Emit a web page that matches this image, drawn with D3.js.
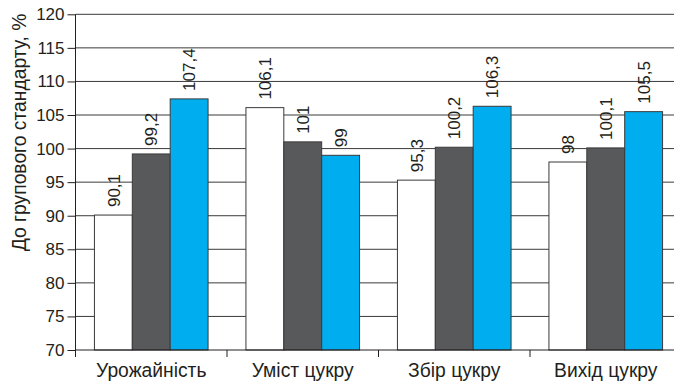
<!DOCTYPE html>
<html>
<head>
<meta charset="utf-8">
<script src="https://cdn.jsdelivr.net/npm/d3@7"></script>
<style>
  html, body { margin: 0; padding: 0; background: #fff; }
  svg { display: block; }
  text { font-family: "Liberation Sans", Arial, sans-serif; fill: #231f20; }
</style>
</head>
<body>
<svg id="chart" width="674" height="383"></svg>
<script>
// Indicators (categories) and three series of values, % of group standard
const categories = ["Урожайність", "Уміст цукру", "Збір цукру", "Вихід цукру"];
const seriesA = [90.1, 106.1, 95.3, 98];
const seriesB = [99.2, 101, 100.2, 100.1];
const seriesC = [107.4, 99, 106.3, 105.5];
const seriesColors = ["#ffffff", "#58595b", "#00aeef"];
const yTicks = [70, 75, 80, 85, 90, 95, 100, 105, 110, 115, 120];
const yTitle = "До групового стандарту, %";

const series = [seriesA, seriesB, seriesC];
const fmt = v => String(v).replace(".", ",");

const svg = d3.select("#chart");
const m = { left: 75.5, right: 681.5, top: 14.3, bottom: 350 };

const x = d3.scaleBand().domain(categories).range([m.left, m.right]).paddingInner(0).paddingOuter(0);
const bw = x.bandwidth() / 4;
const y = d3.scaleLinear().domain([70, 120]).range([m.bottom, m.top]);

// horizontal gridlines
svg.append("g")
  .selectAll("line")
  .data(yTicks.filter(t => t > 70))
  .join("line")
  .attr("x1", m.left).attr("x2", 674)
  .attr("y1", d => y(d)).attr("y2", d => y(d))
  .attr("stroke", "#3a3a3a").attr("stroke-width", 1);

// bars with rotated value labels
const groups = svg.append("g").selectAll("g")
  .data(categories)
  .join("g");

series.forEach((vals, si) => {
  groups.append("rect")
    .attr("x", (d, i) => x(d) + bw / 2 + si * bw)
    .attr("y", (d, i) => y(vals[i]))
    .attr("width", bw)
    .attr("height", (d, i) => y(70) - y(vals[i]))
    .attr("fill", seriesColors[si])
    .attr("stroke", "#3a3a3a")
    .attr("stroke-width", 1);

  groups.append("text")
    .attr("transform", (d, i) => {
      const cx = x(d) + bw / 2 + si * bw + bw / 2;
      return `translate(${cx},${y(vals[i]) - 8}) rotate(-90)`;
    })
    .attr("dy", "0.36em")
    .attr("font-size", 17)
    .attr("text-anchor", "start")
    .text((d, i) => fmt(vals[i]));
});

// y axis
const yAxis = d3.axisLeft(y).tickValues(yTicks).tickSize(8).tickPadding(3).tickFormat(d3.format("d"));
const ya = svg.append("g").attr("transform", `translate(${m.left},0)`).call(yAxis);
ya.select(".domain").attr("stroke", "#231f20").attr("d", `M0,${m.top}V${m.bottom}`);
ya.selectAll(".tick line").attr("stroke", "#231f20");
ya.selectAll(".tick text").attr("font-size", 17).attr("fill", "#231f20").style("font-family", "'Liberation Sans', Arial, sans-serif");

// x axis with category boundary ticks
const xa = svg.append("g").attr("transform", `translate(0,${m.bottom})`);
xa.append("line").attr("x1", m.left).attr("x2", 674).attr("y1", 0).attr("y2", 0).attr("stroke", "#231f20");
xa.selectAll("line.tk")
  .data(categories)
  .join("line")
  .attr("class", "tk")
  .attr("x1", d => x(d)).attr("x2", d => x(d))
  .attr("y1", 0).attr("y2", 7)
  .attr("stroke", "#231f20");
xa.selectAll("text")
  .data(categories)
  .join("text")
  .attr("x", d => x(d) + x.bandwidth() / 2)
  .attr("y", 26.7)
  .attr("text-anchor", "middle")
  .attr("font-size", 19.3)
  .text(d => d);

// y axis title
svg.append("text")
  .attr("transform", `translate(25.5,132.5) rotate(-90)`)
  .attr("text-anchor", "middle")
  .attr("font-size", 19.3)
  .text(yTitle);
</script>
</body>
</html>
